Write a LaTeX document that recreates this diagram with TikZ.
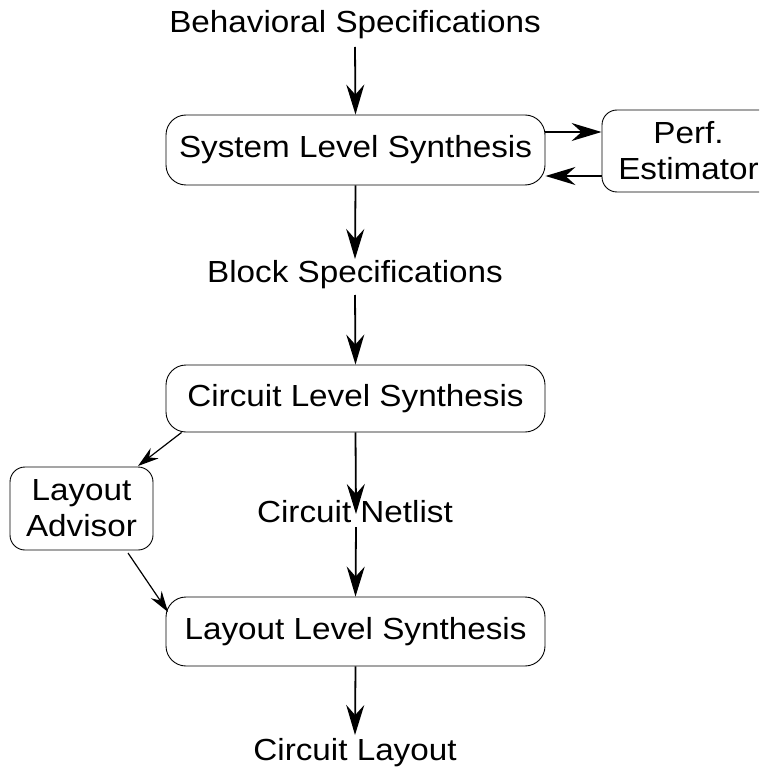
\documentclass[tikz,border=0pt]{standalone}
\usepackage{fontspec}
\setmainfont{Liberation Sans}[FakeStretch=1.09]
\usetikzlibrary{arrows.meta}
\begin{document}
\begin{tikzpicture}[x=1pt,y=-1pt,
  box/.style={draw, rounded corners=20pt, line width=0.9pt, inner sep=0pt},
  lbl/.style={font=\fontsize{30.5}{36}\selectfont, inner sep=0pt},
  arr/.style={line width=1.8pt, -{Stealth[length=30pt,width=18pt,inset=10pt]}},
  thinarr/.style={line width=1.2pt, -{Stealth[length=21pt,width=13pt,inset=7pt]}}]
\useasboundingbox (0,0) rectangle (759,767);
\clip (0,0) rectangle (759,767);
% boxes
\node[box, lbl, minimum width=379pt, minimum height=70pt] (sys) at (355.5,150) {System Level Synthesis};
\node[box, lbl, rounded corners=15pt, minimum width=173pt, minimum height=82pt, align=center] (perf) at (688.5,151) {Perf.\\Estimator};
\node[box, lbl, minimum width=379pt, minimum height=67pt] (cir) at (355.5,398.5) {Circuit Level Synthesis};
\node[box, lbl, rounded corners=15pt, minimum width=143pt, minimum height=83pt, align=center] (adv) at (81.5,508.5) {Layout\\Advisor};
\node[box, lbl, minimum width=379pt, minimum height=69pt] (lls) at (355.5,631.5) {Layout Level Synthesis};
% plain labels
\node[lbl, anchor=base] (beh) at (355,33) {Behavioral Specifications};
\node[lbl] (blk) at (355,275) {Block Specifications};
\node[lbl] (net) at (355,512) {Circuit Netlist};
\node[lbl, anchor=base] (lay) at (355,760) {Circuit Layout};
% connector end points
\coordinate (behout) at (355,47);
\coordinate (blkin) at (355,259);
\coordinate (blkout) at (355,295);
\coordinate (netin) at (356,514);
\coordinate (netout) at (356,527);
\coordinate (layin) at (355,735);
\coordinate (advin) at (138,466);
\coordinate (advout) at (128,553);
\coordinate (llsin) at (168,612);
% connectors
\draw[arr] (behout) -- (sys.north);
\draw[arr] ([yshift=18pt]sys.east) -- ([yshift=18pt]sys.east -| perf.west);
\draw[arr] ([yshift=-26pt]sys.east -| perf.west) -- ([yshift=-26pt]sys.east);
\draw[arr] (sys.south) -- (blkin);
\draw[arr] (blkout) -- (cir.north);
\draw[arr] (cir.south) -- (netin);
\draw[arr] (netout) -- (lls.north);
\draw[arr] (lls.south) -- (layin);
\draw[thinarr] ([xshift=16pt]cir.south west) -- (advin);
\draw[thinarr] (advout) -- (llsin);
\end{tikzpicture}
\end{document}
